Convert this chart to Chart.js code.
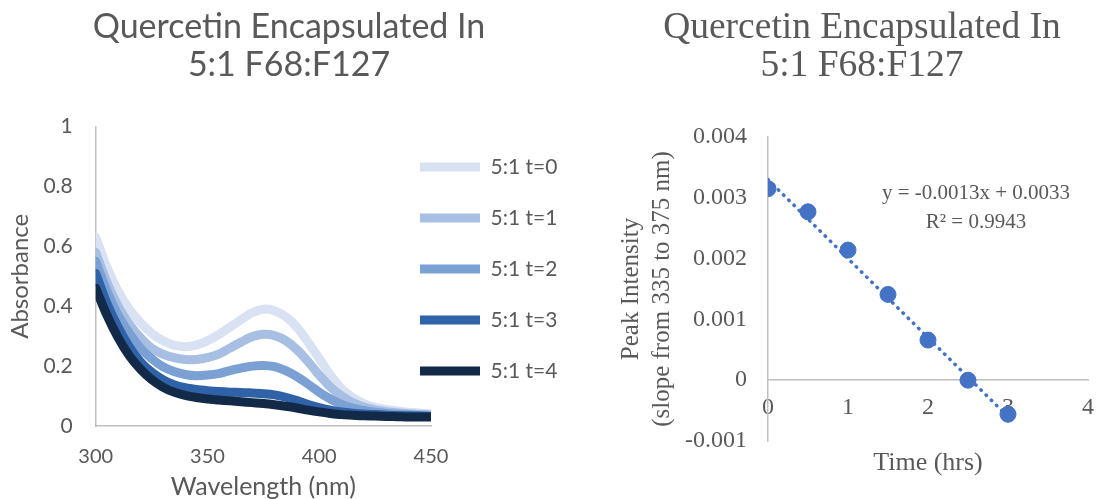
<!DOCTYPE html>
<html>
<head>
<meta charset="utf-8">
<script src="https://cdn.jsdelivr.net/npm/chart.js@4.4.0/dist/chart.umd.min.js"></script>
<style>
  body { margin: 0; background: #fff; }
  .box { position: absolute; top: 0; height: 499px; }
  #leftBox { left: 0; width: 578px; }
  #rightBox { left: 616px; width: 481px; }
</style>
</head>
<body>
<div class="box" id="leftBox"><canvas id="spectra"></canvas></div>
<div class="box" id="rightBox"><canvas id="kinetics"></canvas></div>
<script>
// absorbance spectra, 5 nm steps
const wavelengths = [300, 305, 310, 315, 320, 325, 330, 335, 340, 345, 350, 355, 360, 365, 370, 375,
    380, 385, 390, 395, 400, 405, 410, 415, 420, 425, 430, 435, 440, 445, 450];
const t0 = [0.63, 0.53, 0.45, 0.39, 0.345, 0.31, 0.285, 0.27, 0.265, 0.27, 0.285, 0.305, 0.33, 0.355, 0.378, 0.39,
    0.385, 0.365, 0.33, 0.28, 0.225, 0.17, 0.125, 0.095, 0.075, 0.062, 0.055, 0.05, 0.046, 0.043, 0.04];
const t1 = [0.58, 0.48, 0.40, 0.34, 0.295, 0.26, 0.24, 0.228, 0.222, 0.222, 0.228, 0.24, 0.26, 0.28, 0.298, 0.306,
    0.302, 0.285, 0.255, 0.215, 0.17, 0.13, 0.1, 0.078, 0.063, 0.054, 0.048, 0.044, 0.041, 0.039, 0.037];
const t2 = [0.55, 0.45, 0.37, 0.31, 0.26, 0.225, 0.198, 0.182, 0.172, 0.168, 0.17, 0.175, 0.185, 0.193, 0.2, 0.202,
    0.198, 0.185, 0.165, 0.14, 0.113, 0.09, 0.072, 0.06, 0.052, 0.046, 0.042, 0.039, 0.037, 0.035, 0.034];
const t3 = [0.51, 0.41, 0.33, 0.265, 0.215, 0.18, 0.155, 0.138, 0.128, 0.122, 0.118, 0.115, 0.113, 0.112, 0.11, 0.108,
    0.104, 0.096, 0.085, 0.072, 0.061, 0.053, 0.047, 0.043, 0.04, 0.038, 0.036, 0.035, 0.034, 0.033, 0.032];
const t4 = [0.46, 0.37, 0.295, 0.235, 0.19, 0.155, 0.13, 0.113, 0.102, 0.095, 0.09, 0.087, 0.084, 0.081, 0.078, 0.075,
    0.071, 0.066, 0.06, 0.053, 0.047, 0.042, 0.038, 0.036, 0.034, 0.033, 0.032, 0.031, 0.03, 0.03, 0.03];
const seriesNames = ['5:1 t=0', '5:1 t=1', '5:1 t=2', '5:1 t=3', '5:1 t=4'];
const seriesColors = ['#d9e2f3', '#a7bfe2', '#7ba1d4', '#2f62a6', '#122a48'];

// peak intensity vs time
const hours = [0, 0.5, 1, 1.5, 2, 2.5, 3];
const peak = [0.00315, 0.00277, 0.00214, 0.00141, 0.00066, 0.0, -0.00056];
const trendX = [0, 3];
const trendY = [0.0033, -0.0006];
const eqText = 'y = -0.0013x + 0.0033';
const r2Text = 'R² = 0.9943';

const grey = '#595959';
const axisGrey = '#bfbfbf';
const sans = 'Lato';
const serif = '"Liberation Serif"';
const noTick = 'rgba(0,0,0,0)';

// excel lets the legend sit close to the plot, so narrow it and pull its left edge in
const tightLegend = {
    id: 'tightLegend',
    beforeInit(chart) {
        const fit = chart.legend.fit;
        chart.legend.fit = function () {
            fit.call(this);
            this.width = 147;
        };
    },
    afterLayout(chart) {
        chart.legend.left -= 41;
    }
};

const spectraSets = [t0, t1, t2, t3, t4].map((vals, i) => ({
    label: seriesNames[i],
    data: vals.map((v, j) => ({x: wavelengths[j], y: v})),
    borderColor: seriesColors[i],
    backgroundColor: seriesColors[i],
    borderWidth: 9,
    borderCapStyle: 'round',
    pointRadius: 0,
    tension: 0.3,
    order: 4 - i
}));

new Chart(document.getElementById('spectra'), {
    type: 'line',
    data: { datasets: spectraSets },
    options: {
        responsive: true,
        maintainAspectRatio: false,
        animation: false,
        layout: { padding: { left: 0, right: 0, top: 0, bottom: 0 } },
        plugins: {
            title: {
                display: true,
                text: ['Quercetin Encapsulated In', '5:1 F68:F127'],
                color: grey,
                font: { family: sans, size: 34, weight: 'normal', lineHeight: 1.11 },
                padding: { top: 8, bottom: 43 }
            },
            legend: {
                position: 'right',
                align: 'start',
                fullSize: false,
                labels: {
                    usePointStyle: true,
                    pointStyle: 'line',
                    pointStyleWidth: 60,
                    padding: 30,
                    color: grey,
                    font: { family: sans, size: 21 },
                    sort: (a, b) => a.datasetIndex - b.datasetIndex
                }
            },
            tooltip: { enabled: false }
        },
        scales: {
            x: {
                type: 'linear',
                min: 300,
                max: 450,
                grid: { display: true, drawOnChartArea: false, drawTicks: true, tickLength: 19, tickColor: noTick },
                border: { display: true, color: axisGrey, width: 1.5 },
                ticks: { stepSize: 50, padding: 0, color: grey, font: { family: sans, size: 20 } },
                title: {
                    display: true,
                    text: 'Wavelength (nm)',
                    color: grey,
                    font: { family: sans, size: 25, lineHeight: 1.0 },
                    padding: { top: 5, bottom: 0 }
                }
            },
            y: {
                min: 0,
                max: 1,
                grid: { display: true, drawOnChartArea: false, drawTicks: true, tickLength: 23, tickColor: noTick },
                border: { display: true, color: axisGrey, width: 1.5 },
                ticks: {
                    stepSize: 0.2,
                    padding: 0,
                    color: grey,
                    font: { family: sans, size: 21 },
                    callback: v => String(Math.round(v * 10) / 10)
                },
                title: {
                    display: true,
                    text: 'Absorbance',
                    color: grey,
                    font: { family: sans, size: 24, lineHeight: 1.1 },
                    padding: { top: 7, bottom: 10 }
                }
            }
        }
    },
    plugins: [tightLegend]
});

const trendLabel = {
    id: 'trendLabel',
    afterDatasetsDraw(chart) {
        const {ctx, scales: {x, y}} = chart;
        ctx.save();
        ctx.font = '21px ' + serif;
        ctx.fillStyle = grey;
        ctx.textAlign = 'center';
        ctx.textBaseline = 'middle';
        ctx.fillText(eqText, x.getPixelForValue(2.6), y.getPixelForValue(0.00307));
        ctx.fillText(r2Text, x.getPixelForValue(2.6), y.getPixelForValue(0.0026));
        ctx.restore();
    }
};

new Chart(document.getElementById('kinetics'), {
    type: 'scatter',
    data: {
        datasets: [{
            label: 'Peak Intensity',
            data: hours.map((h, i) => ({x: h, y: peak[i]})),
            backgroundColor: '#4472c4',
            borderColor: '#4472c4',
            pointRadius: 8,
            pointHoverRadius: 8
        }, {
            type: 'line',
            label: 'Linear trend',
            data: trendX.map((h, i) => ({x: h, y: trendY[i]})),
            borderColor: '#4472c4',
            borderWidth: 3.5,
            borderCapStyle: 'round',
            borderDash: [0.5, 6.8],
            pointRadius: 0,
            fill: false
        }]
    },
    options: {
        responsive: true,
        maintainAspectRatio: false,
        animation: false,
        layout: { padding: { left: 0, right: -11, top: 0, bottom: 58 } },
        plugins: {
            title: {
                display: true,
                text: ['Quercetin Encapsulated In', '5:1 F68:F127'],
                color: grey,
                font: { family: serif, size: 37.5, weight: 'normal', lineHeight: 1.013 },
                padding: { top: 9, bottom: 52 }
            },
            legend: { display: false },
            tooltip: { enabled: false }
        },
        scales: {
            x: {
                type: 'linear',
                position: { y: 0 },
                min: 0,
                max: 4,
                grid: { display: true, drawOnChartArea: false, drawTicks: true, tickLength: 13, tickColor: noTick },
                border: { display: true, color: axisGrey, width: 1.5 },
                ticks: { stepSize: 1, padding: 0, color: grey, font: { family: serif, size: 24 } },
                title: {
                    display: true,
                    text: 'Time (hrs)',
                    color: grey,
                    font: { family: serif, size: 26, lineHeight: 1.2 },
                    padding: { top: 26, bottom: 0 }
                }
            },
            y: {
                min: -0.001,
                max: 0.004,
                grid: { display: true, drawOnChartArea: false, drawTicks: true, tickLength: 21, tickColor: noTick },
                border: { display: true, color: axisGrey, width: 1.5 },
                ticks: { stepSize: 0.001, padding: 0, color: grey, font: { family: serif, size: 24 } },
                title: {
                    display: true,
                    text: ['Peak Intensity', '(slope from 335 to 375 nm)'],
                    color: grey,
                    font: { family: serif, size: 25, lineHeight: 1.24 },
                    padding: { top: 0, bottom: 7 }
                }
            }
        }
    },
    plugins: [trendLabel]
});
</script>
</body>
</html>
